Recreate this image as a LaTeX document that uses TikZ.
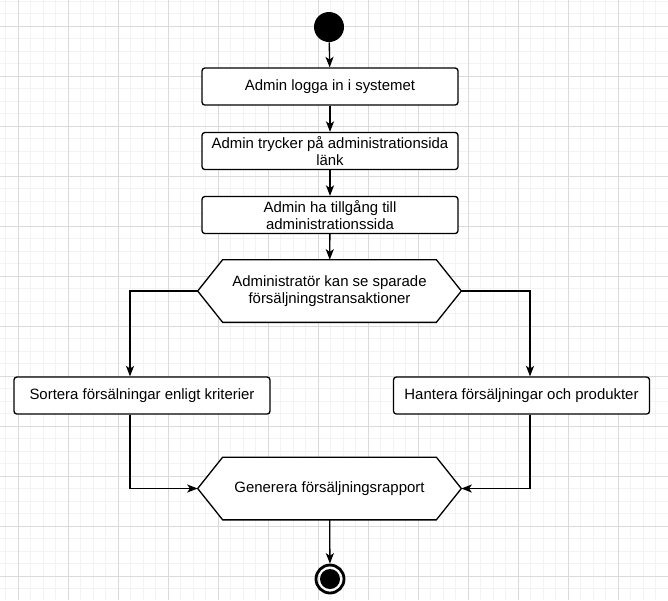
\documentclass[tikz,border=0pt]{standalone}
\usepackage{fontspec}
\setmainfont{Liberation Sans}
\usetikzlibrary{arrows.meta}

\definecolor{gridminor}{HTML}{F3F3F3}
\definecolor{gridmajor}{HTML}{DADADA}

\tikzset{
  actbox/.style={draw, rounded corners=1.6pt, line width=0.75pt, fill=white,
    minimum width=5.12cm, minimum height=0.74cm, inner sep=1pt, align=center,
    font=\fontsize{8.5}{9.8}\selectfont},
  hexbox/.style={minimum width=5.26cm, minimum height=1.24cm, inner sep=1pt,
    align=center, font=\fontsize{8.5}{9.8}\selectfont},
  flow/.style={line width=0.75pt, -{Stealth[length=6pt,width=4.6pt,inset=1.6pt]}}
}

% hexagon frame round a hexbox node
\newcommand{\hexframe}[1]{%
  \draw[line width=0.75pt, fill=white] (#1.west) -- ([xshift=0.5cm]#1.north west)
    -- ([xshift=-0.5cm]#1.north east) -- (#1.east)
    -- ([xshift=-0.5cm]#1.south east) -- ([xshift=0.5cm]#1.south west) -- cycle;}

\begin{document}
\begin{tikzpicture}[x=0.02cm, y=-0.02cm]
  \useasboundingbox (0,0) rectangle (668,600);
  \fill[white] (0,0) rectangle (668,600);

  % grid
  \foreach \gx in {5.5,18,...,668} \draw[gridminor, line width=0.5pt] (\gx,0) -- (\gx,600);
  \foreach \gy in {1,13.5,...,600} \draw[gridminor, line width=0.5pt] (0,\gy) -- (668,\gy);
  \foreach \gx in {18,68,...,668} \draw[gridmajor, line width=0.55pt] (\gx,0) -- (\gx,600);
  \foreach \gy in {26,76,...,600} \draw[gridmajor, line width=0.55pt] (0,\gy) -- (668,\gy);

  % nodes
  \node[circle, fill=black, minimum size=0.6cm, inner sep=0pt] (start) at (329,27) {};
  \node[actbox] (login) at (330,86.5) {Admin logga in i systemet};
  \node[actbox] (click) at (330,151) {Admin trycker på administrationsida\\länk};
  \node[actbox] (access) at (330,215) {Admin ha tillgång till\\administrationssida};

  \node[hexbox] (view) at (329.5,291) {};
  \hexframe{view}
  \node[hexbox] (viewtext) at (view) {Administratör kan se sparade\\försäljningstransaktioner};

  \node[actbox] (sort) at (142,395.5) {Sortera försälningar enligt kriterier};
  \node[actbox] (manage) at (521.5,395.5) {Hantera försäljningar och produkter};

  \node[hexbox] (report) at (329.5,488.5) {};
  \hexframe{report}
  \node[hexbox] (reporttext) at (report) {Generera försäljningsrapport};

  \node[circle, draw, line width=1.6pt, minimum size=0.56cm, inner sep=0pt,
    path picture={\fill (path picture bounding box.center) circle (0.2cm);}] (stop) at (330,579) {};

  \coordinate (leftlane) at (130,0);
  \coordinate (rightlane) at (530,0);

  % connectors
  \draw[flow] (start) -- (login);
  \draw[flow] (login) -- (click);
  \draw[flow] (click) -- (access);
  \draw[flow] (access) -- (view);
  \draw[flow] (view.west) -| (leftlane |- sort.north);
  \draw[flow] (view.east) -| (rightlane |- manage.north);
  \draw[flow] (leftlane |- sort.south) |- (report.west);
  \draw[flow] (rightlane |- manage.south) |- (report.east);
  \draw[flow] (report) -- (stop);
\end{tikzpicture}
\end{document}
